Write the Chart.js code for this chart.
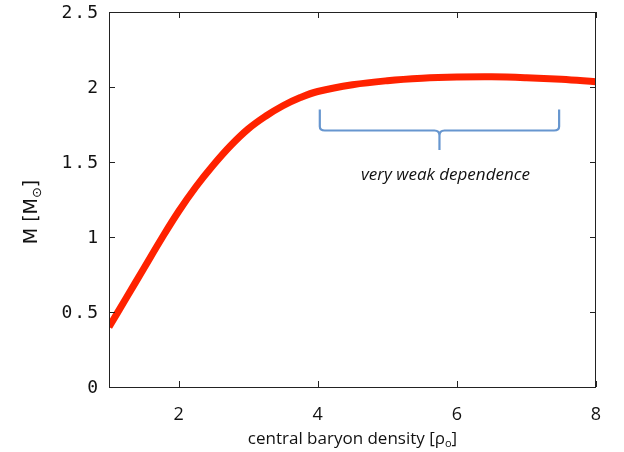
<!DOCTYPE html>
<html>
<head>
<meta charset="utf-8">
<script src="https://cdn.jsdelivr.net/npm/chart.js@4.4.1/dist/chart.umd.min.js"></script>
<style>
  html, body { margin: 0; padding: 0; background: #fff; }
  #wrap { width: 624px; height: 452px; }
</style>
</head>
<body>
<div id="wrap"><canvas id="massChart" width="624" height="452"></canvas></div>
<script>
// central baryon density (units of rho_0) and maximum mass (solar masses)
const density = [1, 1.25, 1.5, 1.75, 2, 2.25, 2.5, 2.75, 3, 3.25, 3.5, 3.75, 4, 4.5, 5, 5.5, 6, 6.5, 7, 7.5, 8];
const mass = [0.40, 0.595, 0.79, 0.985, 1.17, 1.335, 1.48, 1.61, 1.72, 1.805, 1.875, 1.93, 1.97, 2.015, 2.042, 2.058, 2.066, 2.068, 2.062, 2.051, 2.035];
const xTicks = [2, 4, 6, 8];
const yTicks = [0, 0.5, 1, 1.5, 2, 2.5];
const braceRange = [4.03, 7.47];   // region bracketed as "very weak dependence"
const braceNote = 'very weak dependence';

const frame = {
  id: 'frame',
  afterDraw(chart) {
    const { ctx, chartArea: a, scales: { x, y } } = chart;
    ctx.save();
    ctx.strokeStyle = '#222';
    ctx.lineWidth = 1;
    ctx.strokeRect(a.left + 0.5, a.top + 0.5, a.right - a.left - 1, a.bottom - a.top);
    // inward ticks, mirrored on all four sides
    ctx.beginPath();
    yTicks.forEach(v => {
      const py = Math.round(y.getPixelForValue(v)) + 0.5;
      ctx.moveTo(a.left, py); ctx.lineTo(a.left + 6, py);
      ctx.moveTo(a.right, py); ctx.lineTo(a.right - 6, py);
    });
    xTicks.forEach(v => {
      const px = Math.round(x.getPixelForValue(v)) + 0.5;
      ctx.moveTo(px, a.bottom); ctx.lineTo(px, a.bottom - 6);
      ctx.moveTo(px, a.top); ctx.lineTo(px, a.top + 6);
    });
    ctx.stroke();

    // y tick labels (spaced, monospaced look)
    ctx.fillStyle = '#111';
    ctx.font = '18px "DejaVu Sans Mono"';
    ctx.letterSpacing = '2px';
    ctx.textAlign = 'right';
    ctx.textBaseline = 'middle';
    yTicks.forEach(v => {
      ctx.fillText(String(v), a.left - 9, y.getPixelForValue(v) + 1);
    });
    ctx.letterSpacing = '0px';

    // axis titles with subscripts
    ctx.textAlign = 'left';
    ctx.textBaseline = 'alphabetic';
    const t1 = 'central baryon density [ρ', t2 = 'o', t3 = ']';
    ctx.font = '17px "Open Sans"';
    const w1 = ctx.measureText(t1).width, w3 = ctx.measureText(t3).width;
    ctx.font = '11px "Open Sans"';
    const w2 = ctx.measureText(t2).width;
    const sx = (a.left + a.right) / 2 - (w1 + w2 + w3) / 2;
    const by = 444;
    ctx.font = '17px "Open Sans"'; ctx.fillText(t1, sx, by);
    ctx.font = '11px "Open Sans"'; ctx.fillText(t2, sx + w1, by + 3);
    ctx.font = '17px "Open Sans"'; ctx.fillText(t3, sx + w1 + w2, by);

    ctx.save();
    ctx.translate(37, 212);
    ctx.rotate(-Math.PI / 2);
    ctx.font = '19px "DejaVu Sans"';
    const m1 = 'M [M', m2 = '⊙', m3 = ']';
    const q1 = ctx.measureText(m1).width, q3 = ctx.measureText(m3).width;
    ctx.font = '13px "DejaVu Sans"';
    const q2 = ctx.measureText(m2).width;
    const ox = -(q1 + q2 + q3) / 2;
    ctx.font = '19px "DejaVu Sans"'; ctx.fillText(m1, ox, 0);
    ctx.font = '13px "DejaVu Sans"'; ctx.fillText(m2, ox + q1, 4);
    ctx.font = '19px "DejaVu Sans"'; ctx.fillText(m3, ox + q1 + q2, 0);
    ctx.restore();

    // curly bracket + note
    const bx0 = x.getPixelForValue(braceRange[0]);
    const bx1 = x.getPixelForValue(braceRange[1]);
    const bm = (bx0 + bx1) / 2;
    const yTop = y.getPixelForValue(1.85), yMid = y.getPixelForValue(1.71), yTip = y.getPixelForValue(1.58);
    ctx.strokeStyle = '#6796cf';
    ctx.lineWidth = 2.2;
    ctx.lineJoin = 'round';
    ctx.beginPath();
    ctx.moveTo(bx0, yTop);
    ctx.lineTo(bx0, yMid - 4);
    ctx.quadraticCurveTo(bx0, yMid, bx0 + 5, yMid);
    ctx.lineTo(bm - 5, yMid);
    ctx.quadraticCurveTo(bm, yMid, bm, yMid + 5);
    ctx.lineTo(bm, yTip);
    ctx.moveTo(bm, yMid + 5);
    ctx.quadraticCurveTo(bm, yMid, bm + 5, yMid);
    ctx.lineTo(bx1 - 5, yMid);
    ctx.quadraticCurveTo(bx1, yMid, bx1, yMid - 4);
    ctx.lineTo(bx1, yTop);
    ctx.stroke();

    ctx.fillStyle = '#111';
    ctx.font = 'italic 17px "Open Sans"';
    ctx.textAlign = 'center';
    ctx.textBaseline = 'middle';
    ctx.fillText(braceNote, bm + 6, y.getPixelForValue(1.41));
    ctx.restore();
  }
};

new Chart(document.getElementById('massChart').getContext('2d'), {
  type: 'line',
  data: {
    datasets: [{
      data: density.map((d, i) => ({ x: d, y: mass[i] })),
      borderColor: '#ff2200',
      borderWidth: 7,
      pointRadius: 0,
      tension: 0.4,
      borderCapStyle: 'butt',
      fill: false
    }]
  },
  options: {
    responsive: false,
    animation: false,
    layout: { padding: { left: 0, right: 28, top: 12, bottom: 0 } },
    plugins: { legend: { display: false }, tooltip: { enabled: false } },
    scales: {
      x: {
        type: 'linear', min: 1, max: 8,
        afterBuildTicks: s => { s.ticks = xTicks.map(v => ({ value: v })); },
        afterFit: s => { s.height = 65; },
        grid: { display: false },
        border: { display: false },
        ticks: { padding: 9, color: '#111', font: { family: 'Open Sans', size: 18 }, maxRotation: 0 }
      },
      y: {
        min: 0, max: 2.5,
        afterBuildTicks: s => { s.ticks = yTicks.map(v => ({ value: v })); },
        afterFit: s => { s.width = 109; },
        grid: { display: false },
        border: { display: false },
        ticks: { display: false }
      }
    }
  },
  plugins: [frame]
});
</script>
</body>
</html>
